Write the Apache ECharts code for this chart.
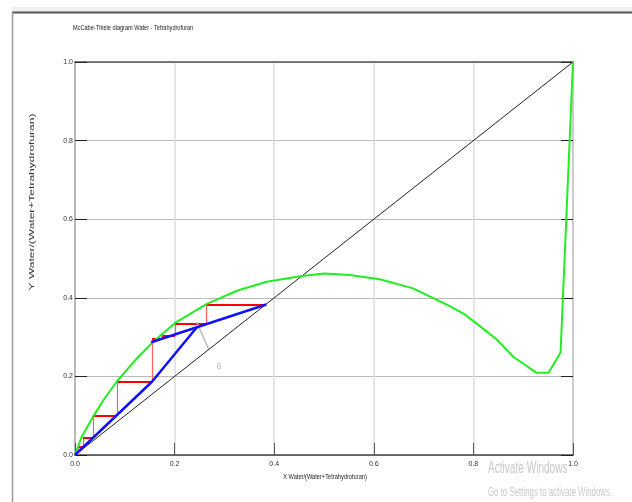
<!DOCTYPE html>
<html>
<head>
<meta charset="utf-8">
<script src="https://cdn.jsdelivr.net/npm/echarts@6/dist/echarts.min.js"></script>
<style>
  html, body { margin: 0; padding: 0; background: #fff; }
  #main { width: 632px; height: 502px; }
</style>
</head>
<body>
<div id="main"></div>
<script>
  // equilibrium curve (x, y)
  var equilibrium = [
    [0, 0], [0.013, 0.045], [0.037, 0.099], [0.06, 0.145], [0.084, 0.187],
    [0.12, 0.24], [0.156, 0.287], [0.201, 0.336], [0.264, 0.384], [0.325, 0.418],
    [0.385, 0.441], [0.452, 0.455], [0.50, 0.462], [0.552, 0.458], [0.612, 0.447],
    [0.679, 0.424], [0.713, 0.403], [0.746, 0.383], [0.780, 0.360], [0.813, 0.328],
    [0.847, 0.294], [0.880, 0.250], [0.927, 0.209], [0.951, 0.209], [0.975, 0.261],
    [1.0, 1.0]
  ];
  var diagonal = [[0, 0], [1, 1]];
  // operating lines
  var strippingLine = [[0, 0], [0.155, 0.187], [0.246, 0.327]];
  var rectifyingLine = [[0.153, 0.287], [0.384, 0.383]];
  // stage steps, walked from top right to the origin
  var stairs = [
    [0.384, 0.383], [0.264, 0.383], [0.264, 0.334], [0.201, 0.334], [0.201, 0.304],
    [0.175, 0.304], [0.175, 0.296], [0.155, 0.296], [0.155, 0.187], [0.084, 0.187],
    [0.084, 0.100], [0.037, 0.100], [0.037, 0.045], [0.016, 0.045], [0.016, 0.020],
    [0.006, 0.020], [0.006, 0.007]
  ];
  // feed stage marker
  var feedMarker = [[0.244, 0.339], [0.268, 0.27]];
  var feedLabel = [[0.289, 0.226, '6']];

  var horiz = [], vert = [];
  for (var i = 1; i < stairs.length; i++) {
    var seg = { coords: [stairs[i - 1], stairs[i]] };
    if (stairs[i][1] === stairs[i - 1][1]) horiz.push(seg); else vert.push(seg);
  }

  var chart = echarts.init(document.getElementById('main'));
  var sans = '"Liberation Sans", Arial, sans-serif';
  var fmt = function (v) { return v.toFixed(1); };

  chart.setOption({
    animation: false,
    backgroundColor: '#fff',
    grid: { left: 75, top: 62, width: 498, height: 393 },
    graphic: [
      { type: 'rect', shape: { x: 12, y: 7, width: 620, height: 5 }, style: { fill: '#efefef' } },
      { type: 'line', shape: { x1: 12, y1: 12.5, x2: 632, y2: 12.5 }, style: { stroke: '#555', lineWidth: 2 } },
      { type: 'line', shape: { x1: 12.5, y1: 12, x2: 12.5, y2: 502 }, style: { stroke: '#999', lineWidth: 1.5 } },
      { type: 'text', x: 73, y: 28, scaleX: 0.7, style: { text: 'McCabe-Thiele diagram Water - Tetrahydrofuran', font: '8px ' + sans, fill: '#222', verticalAlign: 'middle' } },
      { type: 'text', x: 32, y: 202, rotation: Math.PI / 2, scaleX: 1.5, style: { text: 'Y Water/(Water+Tetrahydrofuran)', font: '8px ' + sans, fill: '#333', align: 'center', verticalAlign: 'middle' } },
      { type: 'text', x: 325, y: 477, scaleX: 0.71, style: { text: 'X Water/(Water+Tetrahydrofuran)', font: '8px ' + sans, fill: '#222', align: 'center', verticalAlign: 'middle' } },
      { type: 'text', x: 488, y: 469, scaleX: 0.63, style: { text: 'Activate Windows', font: '16px ' + sans, fill: '#c8c8c8', verticalAlign: 'middle' } },
      { type: 'text', x: 488, y: 493, scaleX: 0.655, style: { text: 'Go to Settings to activate Windows.', font: '12px ' + sans, fill: '#c8c8c8', verticalAlign: 'middle' } }
    ],
    xAxis: [
      {
        type: 'value', min: 0, max: 1, interval: 0.2, position: 'bottom',
        axisLine: { onZero: false, lineStyle: { color: '#444', width: 1.5 } },
        axisTick: { inside: true, length: 12, lineStyle: { color: '#555' } },
        splitLine: { lineStyle: { color: '#ddd', width: 1.5 } },
        axisLabel: { margin: 6, formatter: fmt, fontFamily: sans, fontSize: 7, color: '#333' }
      },
      {
        type: 'value', min: 0, max: 1, interval: 0.2, position: 'top',
        axisLine: { onZero: false, lineStyle: { color: '#555', width: 1.5 } },
        axisTick: { show: false }, axisLabel: { show: false }, splitLine: { show: false }
      }
    ],
    yAxis: [
      {
        type: 'value', min: 0, max: 1, interval: 0.2, position: 'left',
        axisLine: { onZero: false, lineStyle: { color: '#aaa', width: 1.5 } },
        axisTick: { inside: true, length: 12, lineStyle: { color: '#222' } },
        splitLine: { lineStyle: { color: '#bbb', width: 1 } },
        axisLabel: { margin: 2, formatter: fmt, fontFamily: sans, fontSize: 7, color: '#333' }
      },
      {
        type: 'value', min: 0, max: 1, interval: 0.2, position: 'right',
        axisLine: { onZero: false, lineStyle: { color: '#ccc', width: 2 } },
        axisTick: { inside: true, length: 12, lineStyle: { color: '#222' } },
        axisLabel: { show: false }, splitLine: { show: false }
      }
    ],
    series: [
      { type: 'line', data: diagonal, showSymbol: false, z: 2, lineStyle: { color: '#222', width: 1 } },
      { type: 'lines', coordinateSystem: 'cartesian2d', data: vert, z: 3, lineStyle: { color: '#ff6060', width: 1.2, opacity: 1 } },
      { type: 'lines', coordinateSystem: 'cartesian2d', data: horiz, z: 3, lineStyle: { color: '#ff0000', width: 2, opacity: 1 } },
      { type: 'line', data: equilibrium, showSymbol: false, z: 4, lineStyle: { color: '#22ee22', width: 2 } },
      { type: 'line', data: feedMarker, showSymbol: false, z: 4, lineStyle: { color: '#bbb', width: 1.5 } },
      {
        type: 'scatter', data: feedLabel, symbolSize: 0, z: 4,
        label: { show: true, position: 'inside', formatter: function (p) { return p.value[2]; }, fontFamily: sans, fontSize: 9, color: '#aaa' }
      },
      { type: 'line', data: strippingLine, showSymbol: false, z: 5, lineStyle: { color: '#1010ff', width: 2.5 } },
      { type: 'line', data: rectifyingLine, showSymbol: false, z: 5, lineStyle: { color: '#1010ff', width: 2.5 } }
    ]
  });
</script>
</body>
</html>
